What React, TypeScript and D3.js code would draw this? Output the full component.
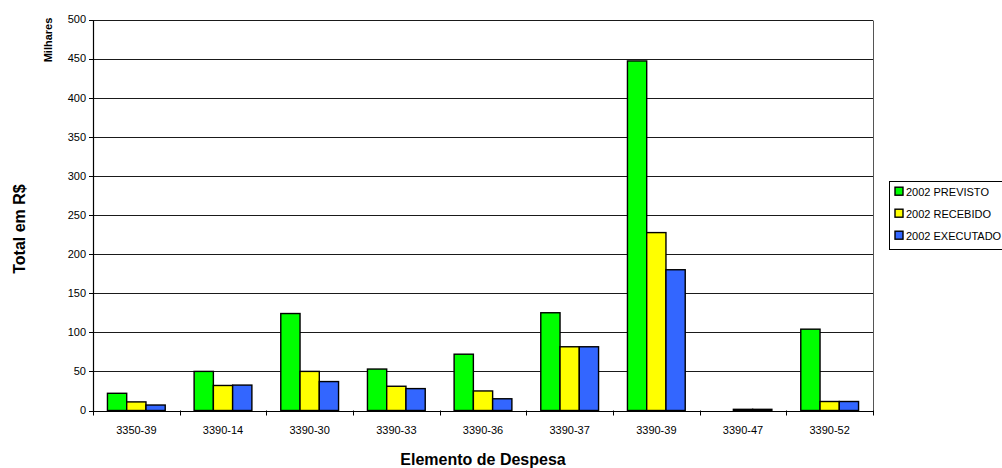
import React from "react";
import * as d3 from "d3";

// Categories (budget expense elements)
const categories = [
  "3350-39", "3390-14", "3390-30", "3390-33", "3390-36",
  "3390-37", "3390-39", "3390-47", "3390-52",
];

// Values in thousands of R$
const previsto = [22, 50, 124, 53, 72, 125, 447, 0, 104];
const recebido = [11, 32, 50, 31, 25, 81.5, 227.5, 1.5, 11.5];
const executado = [7, 32.5, 37, 28, 15, 81.5, 180, 1.5, 11.5];

const seriesNames = ["2002 PREVISTO", "2002 RECEBIDO", "2002 EXECUTADO"];
const seriesColors = ["#00FF00", "#FFFF00", "#3366FF"];
const yTicks = [0, 50, 100, 150, 200, 250, 300, 350, 400, 450, 500];

const W = 1002;
const H = 468;
const plot = { left: 93, right: 873, top: 19.5, bottom: 410.5 };
const FONT = "Liberation Sans, Arial, sans-serif";

export default function App() {
  const series = [previsto, recebido, executado];

  const x0 = d3
    .scaleBand<string>()
    .domain(categories)
    .range([plot.left, plot.right])
    .paddingInner(0)
    .paddingOuter(0);

  // Each group: three bars with a gap of 1.5 bar widths split around them
  const x1 = d3
    .scaleBand<number>()
    .domain([0, 1, 2])
    .range([x0.bandwidth() * (0.75 / 4.5), x0.bandwidth() * (1 - 0.75 / 4.5)])
    .padding(0);

  const y = d3.scaleLinear().domain([0, 500]).range([plot.bottom, plot.top]);

  const px = (v: number) => Math.round(v) + 0.5;

  return (
    <svg
      width={W}
      height={H}
      style={{ position: "absolute", left: 0, top: 0, background: "#fff" }}
      fontFamily={FONT}
    >
      {/* horizontal gridlines */}
      {yTicks.map((t) => (
        <line
          key={"g" + t}
          x1={plot.left}
          x2={plot.right}
          y1={px(y(t))}
          y2={px(y(t))}
          stroke="#1a1a1a"
          strokeWidth={1}
        />
      ))}
      {/* right border of plot area */}
      <line
        x1={px(plot.right)}
        x2={px(plot.right)}
        y1={px(plot.top)}
        y2={px(plot.bottom)}
        stroke="#555"
        strokeWidth={1}
      />

      {/* bars */}
      {categories.map((c, i) => (
        <g key={c} transform={`translate(${x0(c)},0)`}>
          {series.map((s, k) => {
            const v = s[i];
            if (v <= 0) return null;
            const top = y(v);
            return (
              <rect
                key={k}
                x={x1(k)}
                y={top}
                width={x1.bandwidth()}
                height={Math.max(0, y(0) - top)}
                fill={seriesColors[k]}
                stroke="#000"
                strokeWidth={1.4}
              />
            );
          })}
        </g>
      ))}

      {/* y axis */}
      <line
        x1={px(plot.left)}
        x2={px(plot.left)}
        y1={px(plot.top)}
        y2={px(plot.bottom)}
        stroke="#000"
        strokeWidth={1.2}
      />
      {yTicks.map((t) => (
        <g key={"yt" + t}>
          <line
            x1={plot.left - 4}
            x2={plot.left}
            y1={px(y(t))}
            y2={px(y(t))}
            stroke="#000"
          />
          <text
            x={86}
            y={y(t)}
            dy="0.35em"
            textAnchor="end"
            fontSize={11}
            fill="#000"
          >
            {t}
          </text>
        </g>
      ))}

      {/* x axis */}
      <line
        x1={plot.left}
        x2={plot.right + 1}
        y1={px(plot.bottom)}
        y2={px(plot.bottom)}
        stroke="#000"
        strokeWidth={1.2}
      />
      {d3.range(categories.length + 1).map((k) => {
        const xv = plot.left + k * x0.step();
        return (
          <line
            key={"xt" + k}
            x1={px(xv)}
            x2={px(xv)}
            y1={plot.bottom}
            y2={plot.bottom + 5}
            stroke="#000"
          />
        );
      })}
      {categories.map((c) => (
        <text
          key={"xl" + c}
          x={(x0(c) as number) + x0.bandwidth() / 2}
          y={430}
          dy="0.35em"
          textAnchor="middle"
          fontSize={11}
          fill="#000"
        >
          {c}
        </text>
      ))}

      {/* axis titles */}
      <text
        x={(plot.left + plot.right) / 2}
        y={459}
        dy="0.35em"
        textAnchor="middle"
        fontSize={16}
        fontWeight="bold"
        fill="#000"
      >
        Elemento de Despesa
      </text>
      <text
        transform={`translate(19,229) rotate(-90)`}
        dy="0.35em"
        textAnchor="middle"
        fontSize={16}
        fontWeight="bold"
        fill="#000"
      >
        Total em R$
      </text>
      <text
        transform={`translate(48,40) rotate(-90)`}
        dy="0.35em"
        textAnchor="middle"
        fontSize={11}
        fontWeight="bold"
        fill="#000"
      >
        Milhares
      </text>

      {/* legend */}
      <rect
        x={889.5}
        y={181.5}
        width={130}
        height={68}
        fill="#fff"
        stroke="#000"
        strokeWidth={1}
      />
      {seriesNames.map((n, k) => {
        const cy = 191.7 + k * 22;
        return (
          <g key={n}>
            <rect
              x={895}
              y={cy - 4.5}
              width={8}
              height={8}
              fill={seriesColors[k]}
              stroke="#000"
              strokeWidth={1.4}
            />
            <text x={906} y={cy} dy="0.35em" fontSize={11} fill="#000">
              {n}
            </text>
          </g>
        );
      })}
    </svg>
  );
}
